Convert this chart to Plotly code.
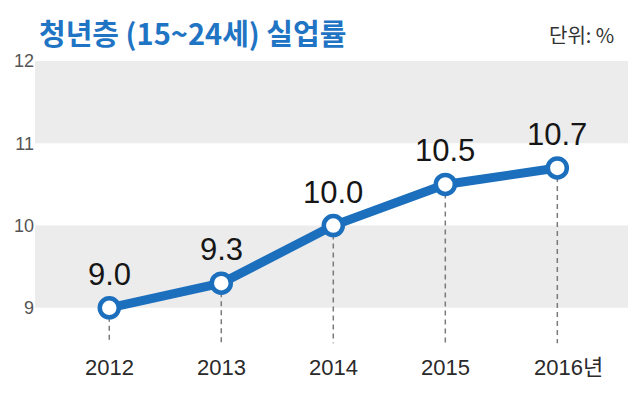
import plotly.graph_objects as go

years = ["2012", "2013", "2014", "2015", "2016"]
year_labels = ["2012", "2013", "2014", "2015", "2016년"]
rates = [9.0, 9.3, 10.0, 10.5, 10.7]
value_labels = ["9.0", "9.3", "10.0", "10.5", "10.7"]
y_ticks = [9, 10, 11, 12]

BLUE = "#1c6fbd"
BAND = "#ececec"
xs = list(range(len(years)))

# page body has an 8px default margin; positions below are in page pixels
OFF = 8
W, H = 640, 396
L, R, T, B = 35 - OFF, 12 + OFF, 61 - OFF, 47 + OFF
pw, ph = W - L - R, H - T - B

fig = go.Figure()

shapes = []
for y0, y1 in [(9, 10), (11, 12)]:
    shapes.append(dict(type="rect", xref="paper", yref="y", x0=0, x1=1, y0=y0, y1=y1,
                       fillcolor=BAND, line=dict(width=0), layer="below"))
for x, v in zip(xs, rates):
    shapes.append(dict(type="line", xref="x", yref="y", x0=x, x1=x, y0=v, y1=8.57,
                       line=dict(color="#7a7a7a", width=1.5, dash="5px,4px"), layer="below"))

fig.add_trace(go.Scatter(
    x=xs, y=rates, mode="lines+markers",
    line=dict(color=BLUE, width=9),
    marker=dict(size=19, color="white", line=dict(color=BLUE, width=4.5)),
    hoverinfo="skip", showlegend=False,
))

annotations = []
for x, v, t in zip(xs, rates, value_labels):
    annotations.append(dict(x=x, y=v, xref="x", yref="y", text=t, showarrow=False,
                            yanchor="bottom", yshift=14,
                            font=dict(family="Liberation Sans, Arial, sans-serif", size=31, color="#161616")))
for x, t in zip(xs, year_labels):
    if t.endswith("년"):
        annotations.append(dict(x=x, y=0, xref="x", yref="paper", text=t, showarrow=False,
                                xanchor="left", xshift=-25, yanchor="top", yshift=-4,
                                font=dict(family="Liberation Sans, Noto Sans CJK KR, sans-serif", size=22, color="#2a2a2a")))
    else:
        annotations.append(dict(x=x, y=0, xref="x", yref="paper", text=t, showarrow=False,
                                xanchor="center", yanchor="top", yshift=-4,
                                font=dict(family="Liberation Sans, sans-serif", size=22, color="#2a2a2a")))

header = [
    dict(x=37, y=32, text="<b>청년층 (15~24세) 실업률</b>", showarrow=False, xanchor="left", yanchor="middle",
         font=dict(family="Noto Sans CJK KR, sans-serif", size=29, color="#1f74c4")),
    dict(x=616, y=34, text="단위: %", showarrow=False, xanchor="right", yanchor="middle",
         font=dict(family="Noto Sans CJK KR, sans-serif", size=20, color="#333333")),
]
for a in header:
    px, py = a["x"] - OFF, a["y"] - OFF
    a["xref"] = "paper"; a["yref"] = "paper"
    a["x"] = (px - L) / pw
    a["y"] = 1 + (T - py) / ph
    annotations.append(a)

fig.update_layout(
    width=W, height=H,
    margin=dict(l=L, r=R, t=T, b=B, autoexpand=False),
    plot_bgcolor="white", paper_bgcolor="white",
    shapes=shapes, annotations=annotations,
    xaxis=dict(range=[-0.663, 4.631], showgrid=False, zeroline=False, showticklabels=False,
               showline=False, fixedrange=True, automargin=False),
    yaxis=dict(range=[8.5, 12], tickvals=y_ticks, ticktext=[str(v) for v in y_ticks],
               showgrid=False, zeroline=False, showline=False, ticks="", automargin=False,
               tickfont=dict(family="Liberation Sans, sans-serif", size=18, color="#555555")),
)

fig.write_html("out.html")
